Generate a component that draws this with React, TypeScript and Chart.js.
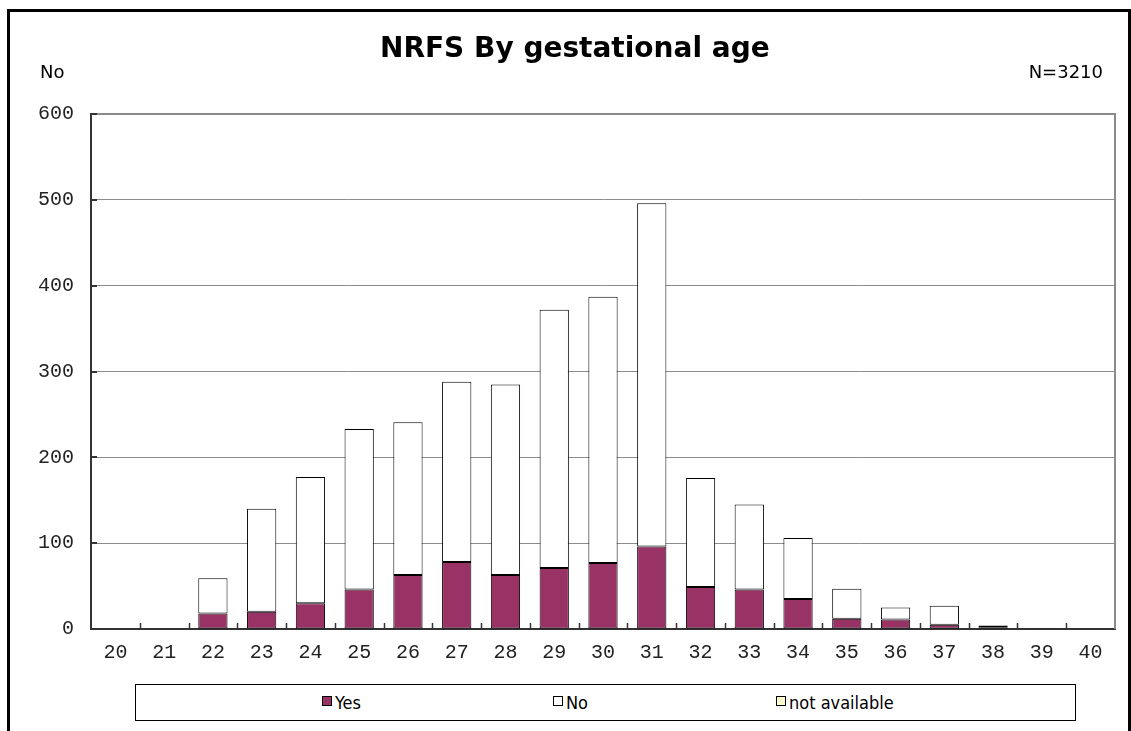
import React, { useEffect, useRef } from 'react';
import { Chart, registerables } from 'chart.js';

Chart.register(...registerables);

const W = 1131;
const H = 731;

const titleText = 'NRFS By gestational age';
const yAxisLabel = 'No';
const totalLabel = 'N=3210';

const categories = ['20', '21', '22', '23', '24', '25', '26', '27', '28', '29', '30', '31', '32', '33', '34', '35', '36', '37', '38', '39', '40'];
const seriesNames = ['Yes', 'No', 'not available'];
const seriesColors = ['#993366', '#ffffff', '#ffffcc'];
const yesValues = [0, 0, 18, 20, 30, 46, 63, 78, 63, 71, 77, 96, 49, 46, 35, 12, 11, 5, 2, 1, 0];
const noValues = [0, 0, 41, 120, 147, 187, 178, 210, 222, 301, 310, 400, 127, 99, 71, 35, 14, 22, 2, 0, 0];
const naValues = [0, 0, 0, 0, 0, 0, 0, 0, 0, 0, 0, 0, 0, 0, 0, 0, 0, 0, 0, 0, 0];
const yTickValues = [0, 100, 200, 300, 400, 500, 600];

const legendItemX = [322, 553, 776];

const framePlugin = {
  id: 'frame',
  afterDraw(chart: any) {
    const { ctx, chartArea } = chart;
    const xs = chart.scales.x;
    const ys = chart.scales.y;
    ctx.save();
    // top & right borders of plot area
    ctx.strokeStyle = '#8a8a8a';
    ctx.lineWidth = 2;
    ctx.beginPath();
    ctx.moveTo(chartArea.left, chartArea.top);
    ctx.lineTo(chartArea.right, chartArea.top);
    ctx.lineTo(chartArea.right, chartArea.bottom);
    ctx.stroke();
    // inward ticks
    ctx.strokeStyle = '#333';
    ctx.lineWidth = 2;
    ctx.beginPath();
    yTickValues.forEach((v) => {
      const py = Math.round(ys.getPixelForValue(v));
      ctx.moveTo(chartArea.left, py);
      ctx.lineTo(chartArea.left + 6, py);
    });
    ctx.stroke();
    ctx.lineWidth = 1.5;
    ctx.beginPath();
    const n = categories.length;
    for (let i = 1; i < n; i++) {
      const px = Math.round(xs.left + ((xs.right - xs.left) * i) / n) + 0.5;
      ctx.moveTo(px, chartArea.bottom);
      ctx.lineTo(px, chartArea.bottom - 6);
    }
    ctx.stroke();
    ctx.restore();
  },
};

export default function App() {
  const ref = useRef<HTMLCanvasElement>(null);

  useEffect(() => {
    if (!ref.current) return;
    const values = [yesValues, noValues, naValues];
    const chart = new Chart(ref.current, {
      type: 'bar',
      data: {
        labels: categories,
        datasets: seriesNames.map((name, i) => ({
          label: name,
          data: values[i],
          backgroundColor: seriesColors[i],
          borderColor: '#000000',
          borderWidth: 1,
          borderSkipped: false,
          barPercentage: 0.6,
          categoryPercentage: 1,
        })),
      },
      options: {
        responsive: false,
        animation: false,
        layout: { padding: { left: 0, top: 114, right: 16, bottom: H - 629 - 40 } },
        plugins: {
          legend: { display: false },
          tooltip: { enabled: false },
          title: { display: false },
        },
        scales: {
          x: {
            stacked: true,
            grid: { display: false, drawTicks: false },
            border: { display: true, color: '#333333', width: 2 },
            ticks: {
              font: { family: 'Liberation Mono', size: 20 },
              color: '#222222',
              padding: 12,
              maxRotation: 0,
              autoSkip: false,
            },
            afterFit: (s: any) => {
              s.height = 40;
            },
          },
          y: {
            stacked: true,
            min: 0,
            max: 600,
            ticks: {
              stepSize: 100,
              font: { family: 'Liberation Mono', size: 20 },
              color: '#222222',
              padding: 17,
            },
            grid: { color: '#8c8c8c', lineWidth: 1, drawTicks: false },
            border: { display: true, color: '#333333', width: 2 },
            afterFit: (s: any) => {
              s.width = 91;
            },
          },
        },
      },
      plugins: [framePlugin],
    } as any);
    return () => chart.destroy();
  }, []);

  const textFont = '"DejaVu Sans", sans-serif';
  const legendFont = '"DejaVu Sans Condensed", "DejaVu Sans", sans-serif';

  return (
    <div>
      <div
        style={{
          position: 'fixed',
          left: 7,
          top: 9,
          width: 1124,
          height: 800,
          border: '3px solid #000',
          boxSizing: 'border-box',
          background: '#fff',
        }}
      />
      <canvas
        ref={ref}
        width={W}
        height={H}
        style={{ position: 'fixed', left: 0, top: 0, width: W, height: H, display: 'block' }}
      />
      <div
        style={{
          position: 'fixed',
          left: 380,
          top: 34,
          fontFamily: textFont,
          fontWeight: 'bold',
          fontSize: 28,
          lineHeight: 1,
          color: '#000',
          whiteSpace: 'nowrap',
        }}
      >
        {titleText}
      </div>
      <div
        style={{
          position: 'fixed',
          left: 40,
          top: 63,
          fontFamily: textFont,
          fontSize: 18,
          lineHeight: 1,
          color: '#000',
        }}
      >
        {yAxisLabel}
      </div>
      <div
        style={{
          position: 'fixed',
          right: W - 1103,
          top: 63,
          fontFamily: textFont,
          fontSize: 18,
          lineHeight: 1,
          color: '#000',
          whiteSpace: 'nowrap',
        }}
      >
        {totalLabel}
      </div>
      <div
        style={{
          position: 'fixed',
          left: 135,
          top: 684,
          width: 941,
          height: 37,
          border: '1px solid #000',
          boxSizing: 'border-box',
          background: '#fff',
        }}
      />
      {seriesNames.map((name, i) => (
        <React.Fragment key={name}>
          <div
            style={{
              position: 'fixed',
              left: legendItemX[i],
              top: 696,
              width: 10,
              height: 10,
              border: '1px solid #000',
              boxSizing: 'border-box',
              background: seriesColors[i],
            }}
          />
          <div
            style={{
              position: 'fixed',
              left: legendItemX[i] + 13,
              top: 694,
              fontFamily: legendFont,
              fontSize: 18,
              lineHeight: 1,
              color: '#000',
              whiteSpace: 'nowrap',
            }}
          >
            {name}
          </div>
        </React.Fragment>
      ))}
    </div>
  );
}
